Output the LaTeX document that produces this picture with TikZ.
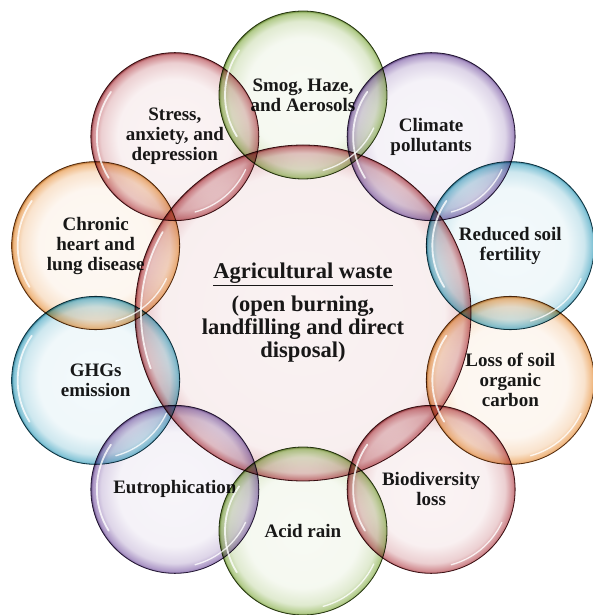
\documentclass[tikz,border=0pt]{standalone}
\usepackage{fontspec}
\setmainfont{Liberation Serif}
\usetikzlibrary{calc}

\definecolor{rimred}{HTML}{B5474F}
\definecolor{rimgreen}{HTML}{86AE48}
\definecolor{rimpurple}{HTML}{7D5CA6}
\definecolor{rimblue}{HTML}{3FA3C0}
\definecolor{rimorange}{HTML}{E8923E}

% soap-bubble look: pale inside, coloured glow towards the rim
\pgfdeclareradialshading[bubblerim]{bubble}{\pgfpoint{0bp}{0bp}}{%
  color(0bp)=(bubblerim!6!white); color(17bp)=(bubblerim!8!white);
  color(22bp)=(bubblerim!26!white); color(24.5bp)=(bubblerim!65!white);
  color(25bp)=(bubblerim!80!black); color(50bp)=(bubblerim!80!black)}
\pgfdeclareradialshading[bubblerim]{hubshade}{\pgfpoint{0bp}{0bp}}{%
  color(0bp)=(bubblerim!7!white); color(21bp)=(bubblerim!9!white);
  color(23.8bp)=(bubblerim!30!white); color(24.8bp)=(bubblerim!70!white);
  color(25bp)=(bubblerim!80!black); color(50bp)=(bubblerim!80!black)}

\tikzset{
  bubble/.style={circle, draw=#1!40!black, line width=.8pt, minimum size=168pt,
    inner sep=0pt, /utils/exec={\colorlet{bubblerim}{#1}}, shading=bubble,
    blend mode=multiply, align=center, text=black!90,
    font=\bfseries\fontsize{19}{20}\selectfont},
  gleam/.style={white, line width=1.8pt, line cap=round, opacity=.8}
}

\begin{document}
\begin{tikzpicture}[x=1pt,y=1pt]
  \useasboundingbox (-303,-302) rectangle (289,313);

  % the waste in the middle
  \node[bubble=rimred, shading=hubshade, minimum size=336pt,
        font=\bfseries\fontsize{22.5}{23}\selectfont] (hub) at (0,0)
    {\underline{Agricultural waste}\\[10pt](open burning,\\landfilling and direct\\disposal)};

  % its effects, clockwise from the top
  \foreach \ang/\hue/\txt [count=\i] in {
      90/rimgreen/{Smog, Haze,\\and Aerosols},
      54/rimpurple/{Climate\\pollutants},
      18/rimblue/{Reduced soil\\fertility},
      -18/rimorange/{Loss of soil\\organic\\carbon},
      -54/rimred/{Biodiversity\\loss},
      -90/rimgreen/{Acid rain},
      -126/rimpurple/{Eutrophication},
      -162/rimblue/{GHGs\\emission},
      162/rimorange/{Chronic\\heart and\\lung disease},
      126/rimred/{Stress,\\anxiety, and\\depression}}
    \node[bubble=\hue] (b\i) at (\ang:218pt) {\txt};

  % white glints on the rims
  \foreach \i in {1,...,10} {
    \draw[gleam] ($(b\i.center)+(145:78pt)$) arc[start angle=145, end angle=212, radius=78pt];
    \draw[gleam, line width=1.3pt] ($(b\i.center)+(-75:78pt)$) arc[start angle=-75, end angle=-25, radius=78pt];
  }
  \draw[gleam] ($(hub.center)+(150:162pt)$) arc[start angle=150, end angle=200, radius=162pt];
\end{tikzpicture}
\end{document}
